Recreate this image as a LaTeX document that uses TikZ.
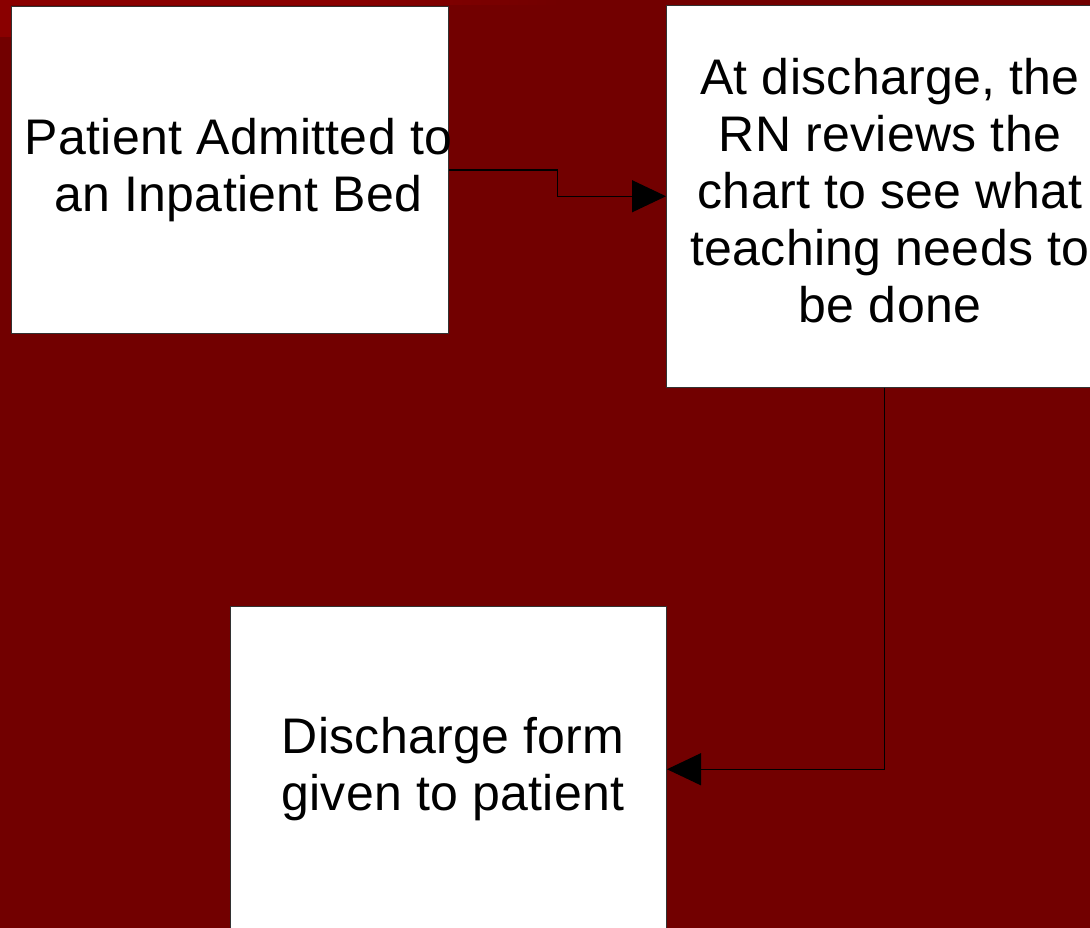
\documentclass[tikz,border=0pt]{standalone}
\usepackage{fontspec}
\setmainfont{Liberation Sans}
\newfontfamily\boxfont[LetterSpace=0.6]{Liberation Sans}
\usetikzlibrary{arrows.meta,calc}
\definecolor{bgred}{RGB}{114,0,0}
\definecolor{bgtop}{RGB}{138,0,0}
\definecolor{boxline}{RGB}{50,50,50}
\begin{document}
\begin{tikzpicture}[x=1pt,y=-1pt,
  box/.style={draw=boxline,line width=1pt,fill=white,inner sep=0pt,anchor=north west},
  txt/.style={font=\boxfont\fontsize{50}{57.1}\selectfont,align=center,inner sep=0pt,text=black},
  conn/.style={draw=black,line width=1.2pt,-{Triangle[length=34pt,width=32pt]}}]
\useasboundingbox (0,0) rectangle (1090,928);
\clip (0,0) rectangle (1090,928);
\fill[bgred] (0,0) rectangle (1090,928);
\fill[bgtop] (0,0) rectangle (335,5);
\shade[left color=bgtop,right color=bgred] (335,0) rectangle (560,5);
\fill[bgtop] (0,0) rectangle (11,37);
% boxes
\node[box,minimum width=437pt,minimum height=327pt] (a) at (11,6) {};
\node[box,minimum width=436pt,minimum height=381.5pt] (b) at (666,5) {};
\node[box,minimum width=436pt,minimum height=326.5pt] (c) at (230,605.5) {};
% texts (base anchor = baseline of the last line)
\node[txt,anchor=base] (ta) at (238.5,211.5) {Patient Admitted to\\an Inpatient Bed};
\node[txt,anchor=base] (tb) at (890,322.7) {At discharge, the\\RN reviews the\\chart to see what\\teaching needs to\\be done};
\node[txt,anchor=base] (tc) at (453,810.5) {Discharge form\\given to patient};
% connectors
\draw[conn] (a.east) -| ($(a.east)!0.5!(b.west)$) |- (b.west);
\draw[conn] (b.south) |- (c.east);
\end{tikzpicture}
\end{document}
